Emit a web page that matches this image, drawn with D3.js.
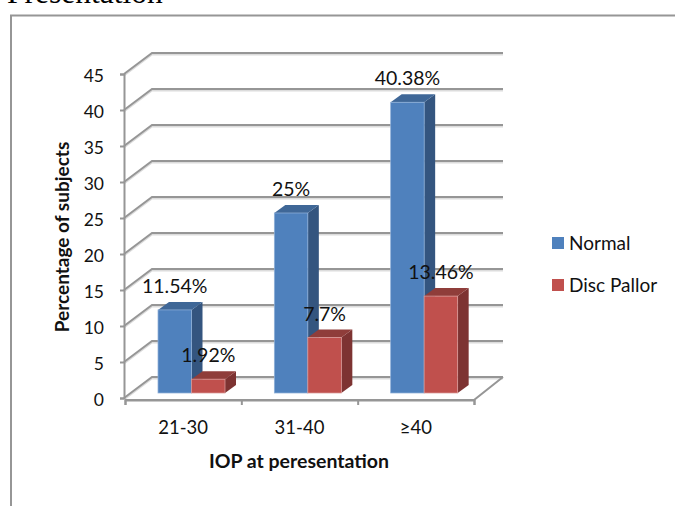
<!DOCTYPE html>
<html>
<head>
<meta charset="utf-8">
<script src="https://cdn.jsdelivr.net/npm/d3@7/dist/d3.min.js"></script>
<style>
html,body{margin:0;padding:0;background:#fff;}
svg{display:block;}
text{font-family:Lato,"Open Sans",sans-serif;fill:#111;}
</style>
</head>
<body>
<svg id="chart" width="675" height="506"></svg>
<script>
const categories = ["21-30", "31-40", "≥40"];
const seriesNames = ["Normal", "Disc Pallor"];
const normalValues = [11.54, 25, 40.38];
const pallorValues = [1.92, 7.7, 13.46];
const normalLabels = ["11.54%", "25%", "40.38%"];
const pallorLabels = ["1.92%", "7.7%", "13.46%"];
const yTicks = [0, 5, 10, 15, 20, 25, 30, 35, 40, 45];

const frontColors = ["#4f81bd", "#c0504d"];
const frontEdges = ["#8fb0d8", "#d99a98"];
const sideColors = ["#34557f", "#7d3332"];
const topColors = ["#3f6797", "#8f3d3a"];
const lineColor = "#969696";
const shadowColor = "#dcdcdc";

const svg = d3.select("#chart");

// Oblique projection of the chart box
const wallDx = 28, wallDy = -21;
const barDx = 11, barDy = -8;
const barLift = -5;

const y = d3.scaleLinear().domain([0, 45]).range([398, 74]);
const x = d3.scaleBand().domain(categories).range([125, 474]);
const xInner = d3.scaleBand().domain(seriesNames).range([33, 100]);

// Page heading cut by the top edge, and the chart frame
svg.append("text").attr("x", 7).attr("y", 3)
  .style("font-family", "'Liberation Serif',serif")
  .style("font-size", "31.5px").style("fill", "#000")
  .text("Presentation");
svg.append("path")
  .attr("d", d3.line()([[11, 506], [11, 15.5], [675, 15.5]]))
  .attr("fill", "none").attr("stroke", lineColor).attr("stroke-width", 2);

// Gridlines across the back wall and down the side wall, each with a soft shadow
const gridPath = d => d3.line()([
  [x.range()[0] - 1, y(d)],
  [x.range()[0] + wallDx - 1, y(d) + wallDy],
  [x.range()[1] + wallDx + 1, y(d) + wallDy]
]);
svg.append("g").attr("transform", "translate(0,1.5)")
  .attr("fill", "none").attr("stroke", shadowColor).attr("stroke-width", 2)
  .selectAll("path").data(yTicks).join("path").attr("d", gridPath);
svg.append("g").attr("fill", "none")
  .attr("stroke", lineColor).attr("stroke-width", 2)
  .selectAll("path").data(yTicks).join("path").attr("d", gridPath);

// Floor edges
svg.append("path")
  .attr("d", d3.line()([
    [x.range()[0], 400],
    [x.range()[1], 400],
    [x.range()[1] + wallDx + 1, y(0) + wallDy]
  ]))
  .attr("fill", "none").attr("stroke", lineColor).attr("stroke-width", 2);

// Axes
const yAxis = svg.append("g").attr("transform", "translate(124,0)")
  .call(d3.axisLeft(y).tickValues(yTicks).tickSize(4));
const xAxis = svg.append("g").attr("transform", "translate(0,400)")
  .call(d3.axisBottom(d3.scalePoint().domain(d3.range(4)).range(x.range()))
    .tickSize(5).tickFormat(""));
[yAxis, xAxis].forEach(a => {
  a.selectAll("path,line").attr("stroke", lineColor).attr("stroke-width", 2);
  a.selectAll("text").style("font-family", "Lato,sans-serif")
    .style("font-size", "17.5px").style("fill", "#111");
});
yAxis.selectAll("text").attr("x", -20).attr("dy", "0.4em");

svg.append("g").selectAll("text").data(categories).join("text")
  .attr("x", d => x(d) + x.bandwidth() / 2)
  .attr("y", 434)
  .attr("text-anchor", "middle")
  .style("font-size", "18.5px")
  .text(d => d);

// Bars with their top and side faces
const rows = categories.flatMap((c, i) => [
  { cat: c, s: 0, name: seriesNames[0], v: normalValues[i], label: normalLabels[i] },
  { cat: c, s: 1, name: seriesNames[1], v: pallorValues[i], label: pallorLabels[i] }
]);
const barX = d => x(d.cat) + xInner(d.name);
const barW = xInner.bandwidth();
const barBase = y(0) + barLift;
const barTop = d => y(d.v) + barLift;

const bars = svg.append("g").selectAll("g").data(rows).join("g");
bars.append("path").attr("fill", d => sideColors[d.s])
  .attr("d", d => d3.line()([
    [barX(d) + barW, barTop(d)],
    [barX(d) + barW + barDx, barTop(d) + barDy],
    [barX(d) + barW + barDx, barBase + barDy],
    [barX(d) + barW, barBase]
  ]));
bars.append("path").attr("fill", d => topColors[d.s])
  .attr("d", d => d3.line()([
    [barX(d), barTop(d)],
    [barX(d) + barDx, barTop(d) + barDy],
    [barX(d) + barW + barDx, barTop(d) + barDy],
    [barX(d) + barW, barTop(d)]
  ]));
bars.append("rect").attr("fill", d => frontColors[d.s])
  .attr("stroke", d => frontEdges[d.s]).attr("stroke-width", 0.75)
  .attr("x", barX).attr("y", barTop)
  .attr("width", barW).attr("height", d => barBase - barTop(d));

// Value labels sit above all bars
svg.append("g").selectAll("text").data(rows).join("text")
  .attr("x", d => barX(d) + barW / 2)
  .attr("y", d => barTop(d) - 17)
  .attr("text-anchor", "middle")
  .style("font-size", "19.5px")
  .text(d => d.label);

// Axis titles
svg.append("text")
  .attr("transform", "translate(69,237) rotate(-90)")
  .attr("text-anchor", "middle")
  .style("font-size", "19px").style("font-weight", 700)
  .text("Percentage of subjects");
svg.append("text").attr("x", 299).attr("y", 468)
  .attr("text-anchor", "middle")
  .style("font-size", "19.5px").style("font-weight", 700)
  .text("IOP at peresentation");

// Legend
const legendY = d3.scalePoint().domain(seriesNames).range([237, 279]);
const legend = svg.append("g").selectAll("g").data(seriesNames).join("g")
  .attr("transform", d => `translate(552,${legendY(d)})`);
legend.append("rect").attr("width", 12).attr("height", 12)
  .attr("fill", (d, i) => frontColors[i]);
legend.append("text").attr("x", 17).attr("y", 13)
  .style("font-size", "19px").text(d => d);
</script>
</body>
</html>
